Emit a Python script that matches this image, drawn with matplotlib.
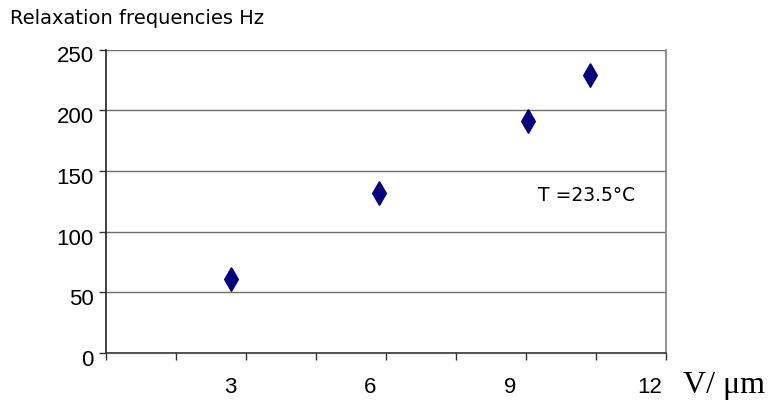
import numpy as np
import matplotlib
matplotlib.use("Agg")
import matplotlib.pyplot as plt
from matplotlib.transforms import ScaledTranslation

# data
thickness = [2.68, 5.85, 9.04, 10.37]      # V / um
freq = [61, 132, 191, 229]                 # relaxation frequency, Hz

y_ticks = [0, 50, 100, 150, 200, 250]
x_minor = [0, 1.5, 3, 4.5, 6, 7.5, 9, 10.5, 12]
x_labels = {3: "3", 6: "6", 9: "9", 12: "12"}

fig = plt.figure(figsize=(7.84, 4.08), dpi=100)
ax = fig.add_axes([106/784, 1 - 353/408, 560/784, (353 - 49.5)/408])

# diamond marker, taller than wide
diamond = [(0, 1), (0.58, 0), (0, -1), (-0.58, 0), (0, 1)]
ax.plot(thickness, freq, linestyle="none", marker=diamond, markersize=17,
        color="#000080", markeredgecolor="#000080", clip_on=False, zorder=3)

ax.set_xlim(0, 12)
ax.set_ylim(0, 250)

# grid lines
for v in y_ticks[1:]:
    ax.axhline(v, color="#6e6e6e", lw=1.0, zorder=1)

ax.spines["top"].set_visible(False)
ax.spines["right"].set_color("#7f7f7f")
ax.spines["left"].set_color("#222222")
ax.spines["bottom"].set_color("#333333")
for s in ax.spines.values():
    s.set_linewidth(1.2)

ax.set_yticks(y_ticks)
ax.set_yticklabels([str(v) for v in y_ticks])
ax.set_xticks(x_minor)
ax.set_xticklabels([x_labels.get(v, "") for v in x_minor])
ax.tick_params(axis="both", direction="out", length=5, width=1,
               color="#333333", labelsize=16, labelcolor="black")
ax.tick_params(axis="y", pad=4)
ax.tick_params(axis="x", pad=12)
for lab in ax.get_xticklabels():
    lab.set_fontfamily("Liberation Sans")
    lab.set_transform(lab.get_transform() + ScaledTranslation(-0.16, 0, fig.dpi_scale_trans))
for lab in ax.get_yticklabels():
    lab.set_fontfamily("Liberation Sans")
    lab.set_transform(lab.get_transform() + ScaledTranslation(0, -0.05, fig.dpi_scale_trans))

fig.text(10/784, 1 - 18/408, "Relaxation frequencies Hz", fontsize=14,
         family="DejaVu Sans", va="center", ha="left")
ax.text(0.771, 0.52, "T =23.5\u00b0C", transform=ax.transAxes, fontsize=13.5,
        family="DejaVu Sans", va="center", ha="left")
fig.text(683/784, 1 - 386/408, "V/ \u03bcm", fontsize=23, family="Liberation Serif",
         va="center", ha="left")

fig.savefig("out.png", dpi=100)
